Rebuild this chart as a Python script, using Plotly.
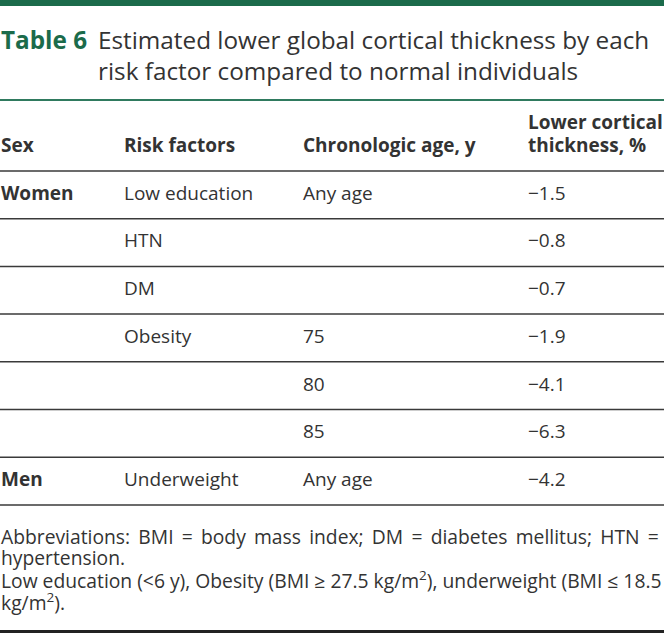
import plotly.graph_objects as go

# ---- data ----
title_label = "Table 6"
title_lines = ["Estimated lower global cortical thickness by each",
               "risk factor compared to normal individuals"]
headers = ["Sex", "Risk factors", "Chronologic age, y", "Lower cortical<br>thickness, %"]
sex = ["Women", "", "", "", "", "", "Men"]
risk_factors = ["Low education", "HTN", "DM", "Obesity", "", "", "Underweight"]
ages = ["Any age", "", "", "75", "80", "85", "Any age"]
lower_thickness = [-1.5, -0.8, -0.7, -1.9, -4.1, -6.3, -4.2]
footnotes = [
    "Abbreviations: BMI = body mass index; DM = diabetes mellitus; HTN =",
    "hypertension.",
    "Low education (<6 y), Obesity (BMI ≥ 27.5 kg/m<sup>2</sup>), underweight (BMI ≤ 18.5",
    "kg/m<sup>2</sup>).",
]
justified = [True, False, False, False]

# ---- layout / style ----
W, H = 664, 633
FONT = "Open Sans"
TEXT = "#333333"
GREEN = "#1b6b4b"
col_x = [0, 123, 302, 527]
cell_size = 19
head_size = 19
title_size = 24.3
foot_size = 19.3
header_line_y = 171
row_h = 47.7


def fmt(v):
    return ("\u2212" if v < 0 else "") + f"{abs(v):.1f}"


def mid(baseline, size):
    return baseline - 0.33 * size


ann = []


def add(text, x, baseline, size, bold=False, color=TEXT):
    ann.append(dict(text=f"<b>{text}</b>" if bold else text, x=x, y=mid(baseline, size),
                    xref="x", yref="y", xanchor="left", yanchor="middle", showarrow=False,
                    borderpad=0,
                    font=dict(family=FONT, size=size, color=color)))


# title
add(title_label, 0, 48, title_size, bold=True, color=GREEN)
for i, t in enumerate(title_lines):
    add(t, 97, 48 + 31 * i, title_size)

# headers
for j, h in enumerate(headers):
    parts = h.split("<br>")
    for k, p in enumerate(reversed(parts)):
        add(p, col_x[j], 151 - 23 * k, head_size, bold=True)

# rows
for i in range(len(lower_thickness)):
    base = header_line_y + row_h * i + 28
    cells = [sex[i], risk_factors[i], ages[i], fmt(lower_thickness[i])]
    for j, c in enumerate(cells):
        if c:
            add(c, col_x[j], base, cell_size, bold=(j == 0))

# footnotes (justified line gets extra thin spaces between words)
for t, b, jus in zip(footnotes, [543, 564, 586, 608], justified):
    if jus:
        t = t.replace(" ", " \u2009")
    add(t, 0, b, foot_size)

shapes = [
    dict(type="rect", x0=0, x1=W, y0=0, y1=6, fillcolor=GREEN, line_width=0),
    dict(type="line", x0=0, x1=W, y0=100, y1=100, line=dict(color="#2f7a5e", width=2)),
    dict(type="rect", x0=0, x1=W, y0=630, y1=H, fillcolor="#222222", line_width=0),
]
for i in range(len(lower_thickness) + 1):
    y = header_line_y + row_h * i
    shapes.append(dict(type="line", x0=0, x1=W, y0=y, y1=y, line=dict(color="#3a3a3a", width=1.5)))

fig = go.Figure()
fig.update_layout(
    width=W, height=H, margin=dict(l=0, r=0, t=0, b=0),
    paper_bgcolor="white", plot_bgcolor="white",
    xaxis=dict(range=[0, W], visible=False, fixedrange=True),
    yaxis=dict(range=[H, 0], visible=False, fixedrange=True),
    annotations=ann, shapes=shapes, showlegend=False,
)
fig.write_html("out.html", config={"displayModeBar": False},
               post_script="document.body.style.margin='0';document.body.style.overflow='hidden';")
